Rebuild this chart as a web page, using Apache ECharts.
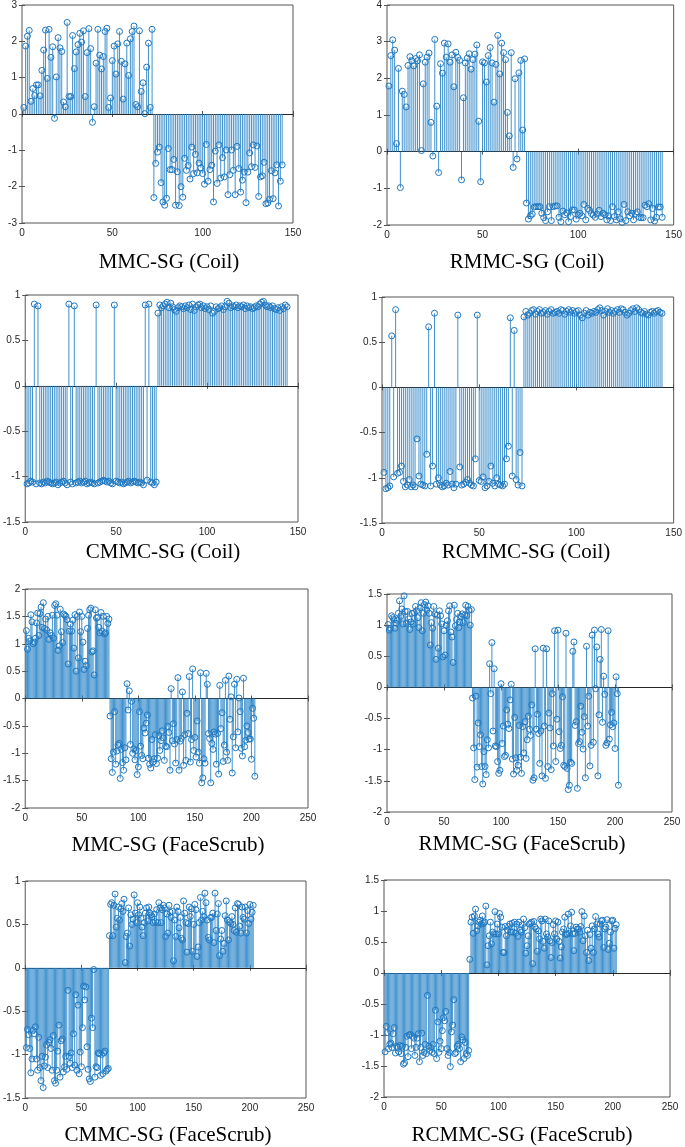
<!DOCTYPE html>
<html>
<head>
<meta charset="utf-8">
<script src="https://cdn.jsdelivr.net/npm/echarts@6/dist/echarts.min.js"></script>
<style>
html,body{margin:0;padding:0;background:#fff;}
#chart{width:685px;height:1147px;}
</style>
</head>
<body>
<div id="chart"></div>
<script>
// ---------------- data ----------------
const titles = ['MMC-SG (Coil)','RMMC-SG (Coil)','CMMC-SG (Coil)','RCMMC-SG (Coil)',
  'MMC-SG (FaceScrub)','RMMC-SG (FaceScrub)','CMMC-SG (FaceScrub)','RCMMC-SG (FaceScrub)'];

const xMaxes = [150,150,150,150,250,250,250,250];
const xSteps = [50,50,50,50,50,50,50,50];
const yMins  = [-3,-2,-1.5,-1.5,-2,-2,-1.5,-2];
const yMaxes = [3,4,1,1,2,1.5,1,1.5];
const ySteps = [1,1,0.5,0.5,0.5,0.5,0.5,0.5];

const mmcCoil = [0.18,1.87,2.14,2.3,0.35,0.7,0.51,0.8,0.8,0.5,
1.2,1.76,2.31,0.98,2.33,1.56,1.85,-0.12,1.02,2.1,
1.82,1.72,0.33,0.2,2.52,0.48,0.48,2.16,1.25,1.71,
1.91,2.22,1.98,2.29,0.48,1.69,2.35,1.8,-0.23,0.2,
1.4,2.33,1.62,1.24,1.58,2.27,2.36,0.18,0.44,1.47,
1.87,1.1,1.93,2.27,1.45,0.41,1.38,1.95,1.06,2.07,
2.27,2.42,0.26,0.2,2.29,0.62,0.86,0.01,1.29,1.95,
0.18,2.33,
-2.3,-1.36,-1.05,-0.91,-1.89,-2.42,-2.51,-2.32,-0.95,-1.53,
-1.53,-1.25,-2.51,-1.59,-2.52,-2.0,-2.29,-1.22,-1.55,-1.42,
-1.79,-0.91,-1.64,-1.11,-1.62,-1.35,-1.48,-1.64,-1.93,-0.84,
-1.85,-1.53,-1.41,-2.42,-1.02,-1.91,-0.85,-1.76,-1.2,-1.73,
-0.99,-2.22,-1.67,-0.99,-1.55,-2.22,-0.89,-1.5,-2.15,-1.82,
-1.6,-2.44,-1.6,-1.07,-1.45,-0.85,-1.47,-0.88,-2.27,-1.73,
-1.7,-1.33,-2.47,-2.45,-2.35,-1.56,-2.33,-1.62,-1.4,-2.53,
-1.85,-1.4];

const rmmcCoil = [1.79,2.62,3.05,2.77,0.22,2.27,-0.98,1.65,1.56,1.22,
2.35,2.59,2.48,2.34,2.54,2.48,2.64,0.03,1.85,2.44,
2.58,2.69,0.8,-0.12,3.06,1.24,-0.57,2.4,2.14,2.96,
2.58,2.94,2.44,2.64,1.77,2.71,2.57,2.49,-0.77,1.47,
2.42,2.55,2.67,2.25,2.51,2.66,2.91,0.83,-0.82,2.45,
2.42,1.9,2.62,2.84,2.42,1.35,2.38,3.17,2.12,2.96,
2.7,2.51,1.07,0.43,2.7,-0.43,1.99,-0.2,2.15,2.49,
0.59,2.53,
-1.4,-1.84,-1.75,-1.7,-1.51,-1.5,-1.5,-1.5,-1.68,-1.8,
-1.88,-1.64,-1.5,-1.88,-1.5,-1.48,-1.48,-1.79,-1.91,-1.62,
-1.72,-1.67,-1.91,-1.77,-1.59,-1.59,-1.84,-1.73,-1.68,-1.75,
-1.44,-1.86,-1.55,-1.6,-1.69,-1.73,-1.79,-1.7,-1.6,-1.77,
-1.68,-1.72,-1.86,-1.75,-1.88,-1.5,-1.77,-1.86,-1.64,-1.83,
-1.93,-1.44,-1.88,-1.64,-1.75,-1.68,-1.86,-1.69,-1.64,-1.79,
-1.8,-1.8,-1.46,-1.5,-1.42,-1.86,-1.55,-1.89,-1.79,-1.51,
-1.51,-1.79];

const cmmcCoil = [-1.08,-1.07,-1.05,-1.06,0.9,-1.08,0.88,-1.07,-1.08,-1.06,
-1.07,-1.05,-1.06,-1.07,-1.08,-1.07,-1.06,-1.09,-1.07,-1.06,
-1.05,-1.07,-1.09,0.9,-1.06,-1.08,0.88,-1.07,-1.06,-1.05,
-1.07,-1.06,-1.05,-1.08,-1.07,-1.06,-1.07,-1.08,0.89,-1.07,
-1.06,-1.05,-1.04,-1.05,-1.06,-1.05,-1.07,-1.08,0.89,-1.05,
-1.06,-1.07,-1.06,-1.08,-1.07,-1.06,-1.05,-1.07,-1.06,-1.05,
-1.06,-1.07,-1.06,-1.07,-1.09,0.89,-1.04,0.9,-1.06,-1.07,
-1.09,-1.06,
0.8,0.89,0.86,0.88,0.9,0.92,0.86,0.91,0.87,0.84,
0.82,0.86,0.88,0.87,0.85,0.88,0.86,0.89,0.84,0.9,
0.83,0.87,0.89,0.9,0.86,0.88,0.85,0.87,0.84,0.88,
0.8,0.82,0.87,0.85,0.86,0.88,0.84,0.87,0.93,0.91,
0.86,0.88,0.87,0.89,0.86,0.88,0.87,0.89,0.85,0.88,
0.86,0.87,0.85,0.86,0.88,0.87,0.9,0.92,0.93,0.89,
0.87,0.88,0.86,0.88,0.85,0.84,0.86,0.83,0.87,0.85,
0.89,0.87];

const rcmmcCoil = [-0.94,-1.12,-1.11,-1.09,0.57,-0.99,0.86,-0.95,-0.94,-0.87,
-1.04,-1.1,-1.08,-1.02,-1.1,-1.08,-1.1,-0.57,-0.98,-1.07,
-1.08,-1.09,-0.74,0.67,-1.09,-0.87,0.82,-1.07,-1.0,-1.08,
-1.1,-1.09,-1.06,-1.08,-0.93,-1.07,-1.11,-1.07,0.8,-0.88,
-1.08,-1.07,-1.05,-1.02,-1.06,-1.08,-1.09,-0.79,0.8,-1.03,
-1.04,-0.99,-1.11,-1.09,-1.04,-0.87,-1.06,-1.09,-1.0,-1.07,
-1.08,-1.09,-1.07,-0.79,-0.65,0.77,-0.98,0.63,-1.02,-1.08,
-0.72,-1.09,
0.78,0.84,0.8,0.82,0.85,0.86,0.81,0.84,0.86,0.82,
0.83,0.85,0.81,0.84,0.86,0.82,0.83,0.84,0.82,0.86,
0.85,0.81,0.84,0.86,0.83,0.85,0.82,0.84,0.85,0.8,
0.77,0.82,0.85,0.8,0.83,0.82,0.84,0.83,0.86,0.88,
0.85,0.8,0.84,0.87,0.83,0.85,0.82,0.84,0.86,0.83,
0.87,0.86,0.83,0.8,0.82,0.85,0.87,0.84,0.88,0.86,
0.83,0.82,0.84,0.81,0.8,0.83,0.84,0.82,0.84,0.85,
0.83,0.82];

const mmcFace = [1.24,0.9,1.1,1.05,1.53,1.4,1.0,1.03,1.1,1.38,
1.56,1.15,1.55,1.67,1.3,1.75,1.28,1.45,1.25,1.5,
1.08,1.2,1.15,1.52,1.1,1.7,1.73,1.52,0.88,0.96,
1.63,1.22,1.02,1.54,1.52,1.5,1.44,0.63,1.23,1.36,
1.23,1.43,0.92,1.53,0.5,1.5,0.74,1.58,1.22,1.5,
1.03,0.53,0.68,0.6,1.28,1.52,1.62,1.65,0.85,0.87,
0.43,1.62,1.47,1.48,1.3,1.2,1.57,1.23,1.5,1.18,
1.2,1.5,1.37,1.45,
-0.32,-1.1,-1.35,-0.98,-0.24,-1.2,-0.96,-0.85,-0.82,-1.46,
-0.93,-1.17,-1.31,-0.9,-1.12,0.27,-0.21,0.14,-0.84,-0.05,
-1.0,-0.92,-1.12,-0.95,-1.39,-1.25,-0.24,-0.87,-1.04,-1.1,
-0.54,-0.63,-0.45,-0.3,-1.09,-1.2,-1.27,-0.75,-1.16,-1.1,
-0.66,-1.19,-1.09,-0.68,-0.95,-0.77,-0.59,-0.72,-1.13,-0.87,
-0.88,-0.51,-0.62,-1.31,0.18,-0.77,-0.46,-0.83,-1.18,-0.75,
0.38,-1.31,-0.78,-0.73,0.12,-1.22,-0.66,-1.13,-0.27,-0.64,
0.4,-1.16,-0.75,0.54,-0.95,-0.71,-1.07,-0.41,-0.98,-1.18,
0.47,-1.54,-1.45,-1.1,-1.18,0.46,0.26,-0.64,-0.73,-1.54,
-0.82,-0.93,-0.61,-0.65,-1.2,-0.64,-1.38,0.24,-0.55,-0.26,
-1.15,-0.85,0.33,-0.98,-1.13,0.41,-0.38,0.03,-1.36,-0.7,
0.26,-0.9,0.35,-0.61,0.01,-0.24,-0.91,-1.05,0.37,-0.88,
-0.76,-0.5,-0.62,-0.74,-0.74,-1.11,-0.18,-0.36,-1.42];

const rmmcFace = [1.01,0.92,0.95,1.15,1.12,1.09,0.95,1.03,1.08,1.19,
1.39,1.14,1.26,1.02,1.47,1.22,1.03,1.22,1.1,0.93,
1.05,1.19,1.02,1.2,1.3,1.23,1.12,0.96,1.28,1.36,
0.91,1.19,1.33,1.37,1.24,1.31,1.19,0.68,1.04,0.95,
1.3,1.18,0.45,1.16,0.63,1.23,1.15,1.02,0.49,0.91,
0.52,1.0,1.07,1.23,1.31,0.89,0.81,0.4,1.32,0.99,
1.09,1.19,0.96,1.05,1.14,1.18,1.04,1.16,1.32,1.15,
1.3,1.24,1.0,1.25,
-0.17,-0.97,-1.48,-0.14,-1.28,-0.57,-0.95,-0.76,-1.27,-1.55,
-1.03,-1.27,-1.4,-0.84,-0.97,0.38,-0.1,0.72,-0.7,0.3,
-0.94,-0.95,-1.19,-1.38,-1.33,0.06,-0.9,-0.62,-1.11,-1.09,
-0.36,-0.59,-0.66,-0.2,0.05,-1.15,-1.39,-0.48,-1.13,-1.33,
-1.25,-0.61,-1.12,-1.38,-0.63,-1.05,-0.55,-1.14,-0.84,-0.46,
-0.67,-0.77,-0.28,-1.49,-1.45,0.62,-0.67,-0.43,-0.74,-1.22,
-0.7,-1.42,0.63,-0.62,-1.46,0.62,-1.27,-0.41,-0.65,-1.32,
-0.1,-0.94,0.91,-1.19,-0.51,0.92,-0.71,-0.98,-0.93,-0.15,
-1.25,-1.27,0.87,-1.3,-1.64,-1.57,-1.2,-1.22,0.58,0.73,
-0.61,-0.55,-1.62,-0.9,-0.87,-0.3,-0.72,-0.99,-0.47,-1.45,
0.66,-0.62,-0.14,-1.26,-0.93,0.84,-0.88,0.92,-0.02,0.65,
-1.42,-0.44,0.45,0.93,-0.56,0.18,-0.11,-0.93,-0.89,0.91,
-0.83,-0.6,-0.4,-0.63,-0.57,-0.98,0.17,-0.1,-1.57];

const cmmcFace = [-0.92,-0.71,-0.77,-0.93,-1.21,-1.05,-0.72,-0.76,-0.68,-1.05,
-1.18,-0.8,-1.15,-1.3,-1.02,-1.38,-1.13,-1.03,-0.89,-1.15,
-0.86,-0.83,-0.93,-1.18,-0.78,-1.3,-1.33,-1.18,-0.96,-0.66,
-1.26,-0.84,-0.82,-1.2,-1.14,-1.02,-1.17,-0.26,-1.02,-1.1,
-0.98,-1.15,-0.76,-1.12,-0.31,-1.18,-0.43,-1.22,-0.97,-1.14,
-0.69,-0.21,-0.37,-0.22,-0.91,-1.17,-1.28,-1.31,-0.58,-0.69,
-0.02,-1.26,-1.14,-1.15,-0.98,-0.99,-1.24,-1.0,-1.22,-0.98,
-0.96,-1.19,-1.17,-1.16,
0.37,0.73,0.75,0.37,0.72,0.85,0.47,0.57,0.7,0.55,
0.68,0.74,0.65,0.79,0.06,0.36,0.4,0.69,0.25,0.61,
0.5,0.56,0.84,0.63,0.52,0.75,0.61,0.7,0.57,0.47,
0.37,0.52,0.63,0.69,0.54,0.7,0.63,0.61,0.59,0.52,
0.62,0.53,0.67,0.52,0.75,0.69,0.52,0.67,0.72,0.69,
0.36,0.62,0.4,0.72,0.64,0.58,0.65,0.08,0.55,0.36,
0.7,0.65,0.46,0.58,0.34,0.32,0.77,0.63,0.52,0.18,
0.51,0.7,0.59,0.68,0.19,0.5,0.73,0.67,0.13,0.24,
0.52,0.81,0.55,0.65,0.59,0.86,0.75,0.55,0.35,0.32,
0.58,0.58,0.63,0.29,0.86,0.43,0.62,0.74,0.14,0.33,
0.43,0.19,0.28,0.6,0.77,0.55,0.32,0.53,0.51,0.59,
0.5,0.43,0.69,0.41,0.74,0.73,0.48,0.4,0.7,0.58,
0.56,0.7,0.4,0.66,0.51,0.73,0.56,0.64,0.72];

const rcmmcFace = [-1.27,-0.86,-0.96,-1.22,-1.15,-1.13,-1.2,-0.98,-0.88,-1.29,
-1.18,-1.2,-1.27,-1.17,-1.3,-1.18,-1.47,-1.45,-1.2,-1.02,
-1.35,-1.0,-0.99,-1.22,-1.02,-1.05,-1.33,-1.2,-1.05,-0.98,
-1.43,-1.2,-0.97,-1.33,-1.28,-1.15,-1.3,-0.36,-1.18,-1.25,
-1.2,-1.28,-1.15,-1.3,-0.6,-1.38,-0.79,-1.28,-1.1,-1.22,
-0.93,-0.72,-0.77,-0.62,-1.22,-1.33,-1.28,-1.51,-0.95,-0.84,
-0.43,-1.3,-1.28,-1.18,-1.15,-1.22,-1.43,-1.03,-1.08,-1.38,
-1.12,-1.3,-1.33,-1.25,
0.22,0.82,0.9,0.64,0.92,1.03,0.68,0.76,0.82,0.85,
0.79,0.92,0.8,0.82,1.08,0.13,0.44,0.6,0.82,0.47,
0.66,0.63,0.99,0.63,0.79,0.63,0.96,0.9,0.74,0.33,
0.33,0.75,0.6,0.69,0.75,0.79,0.66,0.8,0.66,0.82,
0.64,0.79,0.59,0.82,0.69,0.66,0.78,0.87,0.73,0.32,
0.44,0.6,0.79,0.8,0.82,0.15,0.83,0.74,0.71,0.35,
0.68,0.55,0.87,0.84,0.51,0.4,0.87,0.63,0.58,0.84,
0.52,0.25,0.49,0.78,0.63,0.84,0.55,0.82,0.51,0.24,
0.42,0.66,0.71,0.9,0.62,0.63,0.95,0.64,0.76,0.98,
0.63,0.36,0.64,0.74,0.71,0.71,0.66,0.75,0.99,0.52,
0.92,0.6,0.33,0.69,0.2,0.62,0.4,0.76,0.33,0.71,
0.91,0.79,0.63,0.58,0.79,0.84,0.85,0.41,0.71,0.74,
0.86,0.38,0.48,0.66,0.84,0.85,0.4,0.72,0.78];

const seriesData = [mmcCoil, rmmcCoil, cmmcCoil, rcmmcCoil, mmcFace, rmmcFace, cmmcFace, rcmmcFace];

// ---------------- layout (pixels) ----------------
const rects = [
  [22,3,271,220],[387,5,289,220],
  [21,295,277,227],[382,297,296,226],
  [22,589,286,219],[387,594,285,218],
  [23,881,283,217],[384,880,286,217]
];
const titlePos = [[169,262],[527,262],[163,552],[526,552],[168,845],[522,844],[168,1135],[522,1135]];

const STEM = '#2a84c8';
const MARK = '#1f78c1';
const AXC = '#262626';
const BOX = '#555555';

const option = {animation:false, grid:[], xAxis:[], yAxis:[], series:[], graphic:[]};

seriesData.forEach((vals, i) => {
  const [l,t,w,h] = rects[i];
  option.grid.push({left:l, top:t, width:w, height:h, show:true, borderColor:BOX, borderWidth:1, backgroundColor:'#fff', containLabel:false});
  const xCommon = {type:'value', gridIndex:i, min:0, max:xMaxes[i], interval:xSteps[i],
    splitLine:{show:false}, axisLine:{show:false},
    axisTick:{show:true, inside:true, length:3, lineStyle:{color:BOX, width:1}}};
  const yCommon = {type:'value', gridIndex:i, min:yMins[i], max:yMaxes[i], interval:ySteps[i],
    splitLine:{show:false}, axisLine:{show:false},
    axisTick:{show:true, inside:true, length:3, lineStyle:{color:BOX, width:1}}};
  option.xAxis.push(Object.assign({}, xCommon, {position:'bottom',
    axisLabel:{show:true, color:AXC, fontSize:10, fontFamily:'Liberation Sans, Arial, sans-serif', margin:5, showMinLabel:true, showMaxLabel:true}}));
  option.xAxis.push(Object.assign({}, xCommon, {position:'top', axisLabel:{show:false}}));
  option.yAxis.push(Object.assign({}, yCommon, {position:'left',
    axisLabel:{show:true, color:AXC, fontSize:10, fontFamily:'Liberation Sans, Arial, sans-serif', margin:5, showMinLabel:true, showMaxLabel:true}}));
  option.yAxis.push(Object.assign({}, yCommon, {position:'right', axisLabel:{show:false}}));

  const pts = vals.map((v, k) => [k + 1, v]);
  option.series.push({
    type:'custom', xAxisIndex:2*i, yAxisIndex:2*i, data:pts, silent:true, z:2,
    renderItem:(params, api) => {
      const x = api.value(0), y = api.value(1);
      const p0 = api.coord([x, 0]);
      const p1 = api.coord([x, y]);
      return {type:'line', shape:{x1:p0[0], y1:p0[1], x2:p1[0], y2:p1[1]},
        style:{stroke:STEM, lineWidth:0.9}};
    }
  });
  option.series.push({
    type:'scatter', xAxisIndex:2*i, yAxisIndex:2*i, data:pts, silent:true, z:3,
    symbol:'circle', symbolSize:6,
    itemStyle:{color:'rgba(255,255,255,0)', borderColor:MARK, borderWidth:1, opacity:1},
    markLine:{silent:true, symbol:'none', label:{show:false}, z:1,
      lineStyle:{color:AXC, width:1, type:'solid'}, data:[{yAxis:0}]}
  });
  option.graphic.push({type:'text', x:titlePos[i][0], y:titlePos[i][1],
    style:{text:titles[i], fill:'#000', font:'21px "Liberation Serif", "Times New Roman", serif',
      align:'center', verticalAlign:'middle'}});
});

const chart = echarts.init(document.getElementById('chart'), null, {renderer:'canvas'});
chart.setOption(option);
</script>
</body>
</html>
